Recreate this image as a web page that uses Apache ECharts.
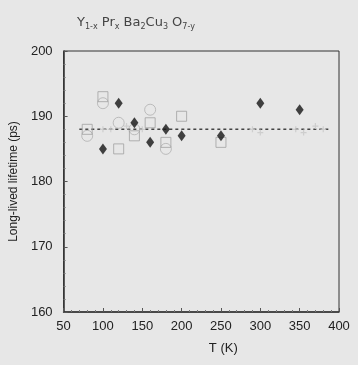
<!DOCTYPE html>
<html>
<head>
<meta charset="utf-8">
<script src="https://cdn.jsdelivr.net/npm/echarts@6/dist/echarts.min.js"></script>
<style>
html,body{margin:0;padding:0;background:#e7e7e7;}
#c{width:358px;height:365px;}
</style>
</head>
<body>
<div id="c"></div>
<script>
// Data
var xTicks = [50, 100, 150, 200, 250, 300, 350, 400];
var yTicks = [160, 170, 180, 190, 200];
var diamonds = [[100,185],[120,192],[140,189],[160,186],[180,188],[200,187],[250,187],[300,192],[350,191]];
var squares = [[80,188],[100,193],[120,185],[140,187],[160,189],[180,186],[200,190],[250,186]];
var circles = [[80,187],[100,192],[120,189],[160,191],[180,185],[140,188]];
var crosses = [[100,188],[110,188],[130,188.5],[150,188],[290,188],[300,187.5],[345,188],[355,187.5],[370,188.5],[380,188]];
var meanLine = [[70,188],[390,188]];

var chart = echarts.init(document.getElementById('c'));
var axisText = {color:'#222', fontSize:13, fontFamily:'Liberation Sans, Arial, sans-serif'};
var tf = 'DejaVu Sans, sans-serif';
chart.setOption({
  backgroundColor:'#e7e7e7',
  animation:false,
  title:{
    text:'{m|Y}{s|1-x}{m| Pr}{s|x}{m| Ba}{s|2}{m|Cu}{s|3}{m| O}{s|7-y}',
    left:72, top:10,
    textStyle:{
      rich:{
        m:{fontSize:13, color:'#444', fontFamily:tf, fontWeight:'normal'},
        s:{fontSize:8, color:'#444', fontFamily:tf, fontWeight:'normal', verticalAlign:'bottom', padding:[8,0,0,0]}
      }
    }
  },
  grid:{left:63, top:51, right:19, bottom:53, show:true, borderColor:'#333', borderWidth:1, backgroundColor:'transparent'},
  xAxis:{
    type:'value', min:50, max:400, interval:50,
    name:'T (K)', nameLocation:'middle', nameGap:30,
    nameTextStyle:{color:'#222', fontSize:13, fontFamily:'Liberation Sans, Arial, sans-serif', padding:[0,0,0,44]},
    axisLine:{lineStyle:{color:'#333', width:1.5}},
    axisTick:{inside:true, length:4, lineStyle:{color:'#555'}},
    minorTick:{show:true, splitNumber:5, length:2, lineStyle:{color:'#777'}},
    splitLine:{show:false},
    axisLabel:Object.assign({margin:8, formatter:function(v){return xTicks.indexOf(v)>=0? String(v):'';}}, axisText)
  },
  yAxis:{
    type:'value', min:160, max:200, interval:10,
    name:'Long-lived lifetime (ps)', nameLocation:'middle', nameGap:40,
    nameTextStyle:{color:'#222', fontSize:12, fontFamily:'Liberation Sans, Arial, sans-serif'},
    axisLine:{show:true, lineStyle:{color:'#333', width:1.5}},
    axisTick:{inside:true, length:4, lineStyle:{color:'#555'}},
    minorTick:{show:true, splitNumber:5, length:2, lineStyle:{color:'#777'}},
    splitLine:{show:false},
    axisLabel:Object.assign({margin:11, formatter:function(v){return yTicks.indexOf(v)>=0? String(v):'';}}, axisText)
  },
  series:[
    {type:'line', data:meanLine, symbol:'none', lineStyle:{color:'#444', width:1.5, type:[3,3]}, z:1},
    {type:'scatter', data:crosses, symbol:'path://M4,0L6,0L6,4L10,4L10,6L6,6L6,10L4,10L4,6L0,6L0,4L4,4Z', symbolSize:6,
      itemStyle:{color:'#c8c8c8'}, z:2},
    {type:'scatter', data:circles, symbol:'circle', symbolSize:11,
      itemStyle:{color:'transparent', borderColor:'#b0b0b0', borderWidth:1}, z:3},
    {type:'scatter', data:squares, symbol:'rect', symbolSize:10,
      itemStyle:{color:'transparent', borderColor:'#a0a0a0', borderWidth:1}, z:4},
    {type:'scatter', data:diamonds, symbol:'diamond', symbolSize:[8,11],
      itemStyle:{color:'#151515'}, z:5}
  ]
});
</script>
</body>
</html>
